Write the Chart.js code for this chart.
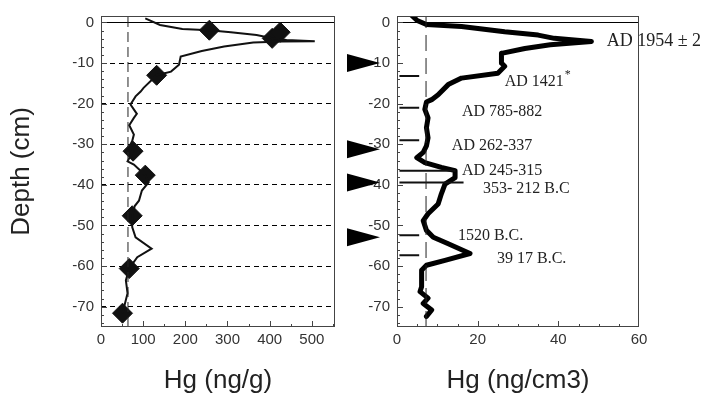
<!DOCTYPE html>
<html>
<head>
<meta charset="utf-8">
<title>Hg depth profiles</title>
<script src="https://cdn.jsdelivr.net/npm/chart.js@4.4.1/dist/chart.umd.min.js"></script>
<style>
  body { margin: 0; background: #fff; }
  #wrap { position: relative; width: 720px; height: 396px; }
  canvas { position: absolute; top: 0; }
</style>
</head>
<body>
<div id="wrap">
  <canvas id="concChart" width="346" height="396" style="left:0"></canvas>
  <canvas id="densChart" width="374" height="396" style="left:346px"></canvas>
</div>
<script>
// ticks shared by both panels
const depthTicks = [0, -10, -20, -30, -40, -50, -60, -70];
const concTicks = [0, 100, 200, 300, 400, 500];
const densTicks = [0, 20, 40, 60];

// Hg (ng/g) profile, left panel
const concHg = [105, 140, 193, 257, 308, 369, 406, 440, 507, 430, 361, 292, 239, 189, 185, 166, 132, 101, 94, 82,
  70, 85, 78, 67, 78, 74, 70, 76, 63, 78, 105, 113, 97, 90, 80, 74, 74, 82, 120, 86, 67, 59, 63, 51];
const concDepth = [1.0, -0.6, -1.6, -1.9, -2.4, -3.1, -3.9, -4.3, -4.6, -4.7, -4.9, -5.9, -7.0, -8.4, -10.4, -12.1, -13.0, -16.1, -17.0, -18.2,
  -20.2, -22.5, -23.5, -25.3, -27.6, -29.2, -30.0, -31.7, -34.2, -35.0, -37.6, -39.4, -41.4, -43.9, -45.2, -47.6, -50.4, -52.9, -55.7, -57.8, -60.6, -63.5, -66.7, -71.6];

// dated samples (diamonds)
const sampleHg = [257, 406, 425, 132, 76, 105, 74, 67, 51];
const sampleDepth = [-1.9, -3.9, -2.4, -13.0, -31.7, -37.6, -47.6, -60.6, -71.6];
const concBackground = 64;

// Hg (ng/cm3) profile, right panel
const densHg = [3.6, 5.0, 7.3, 16, 26.7, 35, 39, 48.2, 38, 31.7, 25.9, 25.9, 26.7, 25.0, 16.0, 12.7, 10.2, 8.6, 7.3, 6.9,
  7.7, 7.3, 7.7, 7.3, 6.5, 4.9, 6.9, 11.0, 14.4, 14.4, 11.9, 11.0, 10.2, 7.7, 6.5, 7.3, 9.0, 12.7, 18.1, 11.9,
  7.3, 6.1, 6.1, 5.7, 7.7, 6.5, 8.6, 7.3];
const densDepth = [1.8, 0.5, -0.5, -1.0, -2.3, -3.1, -3.9, -4.7, -5.5, -6.4, -7.6, -10.0, -10.8, -12.5, -13.7, -15.3, -17.8, -19.0, -19.6, -21.4,
  -23.5, -25.9, -28.4, -30.4, -32.0, -33.3, -34.5, -35.7, -36.5, -38.2, -39.8, -42.2, -44.7, -47.1, -48.8, -51.2, -52.9, -54.5, -56.9, -58.6,
  -59.8, -61.0, -65.1, -66.3, -67.9, -69.2, -70.8, -72.4];
const densBackground = 7.2;

// dated horizons
const dateLabels = ["AD 1954 \u00b1 2", "AD 1421*", "AD 785-882", "AD 262-337", "AD 245-315", "353- 212 B.C", "1520 B.C.", "39 17 B.C."];
const dateLabelHg = [52.0, 26.7, 16.1, 13.6, 16.1, 21.3, 15.1, 24.8];
const dateLabelDepth = [-4.7, -14.5, -21.9, -30.4, -36.5, -41.0, -52.5, -58.1];
const dateMarkDepth = [-13.2, -21, -29, -36.5, -39.4, -52.4, -57.3];
const dateMarkStart = 0.6;
const dateMarkEnd = [5.5, 5.5, 5.5, 14.5, 16.5, 5.5, 5.5];

// arrows between the panels
const arrowDepth = [-10, -31.2, -39.4, -52.9];

const DEPTH_MIN = -75, DEPTH_MAX = 1.6;
const sans = "'Liberation Sans', Arial, sans-serif";
const serif = "'Liberation Serif', 'Times New Roman', serif";

const toPoints = (xs, ys) => xs.map((v, i) => ({ x: v, y: ys[i] }));
const fixedTicks = list => scale => { scale.ticks = list.map(v => ({ value: v })); };

// frame round the plot plus the small inside ticks
const framePlugin = {
  id: "frame",
  afterDraw(chart, args, opts) {
    const { ctx, chartArea: a, scales } = chart;
    ctx.save();
    ctx.strokeStyle = "#444";
    ctx.lineWidth = 1;
    ctx.strokeRect(a.left + 0.5, a.top + 0.5, a.width - 1, a.height - 1);
    ctx.beginPath();
    for (let d = -74; d <= 0; d += 2) {
      const y = Math.round(scales.y.getPixelForValue(d)) + 0.5;
      const len = d % 10 === 0 ? 6 : 3;
      ctx.moveTo(a.left, y);
      ctx.lineTo(a.left + len, y);
    }
    for (let v = opts.xStep; v < scales.x.max; v += opts.xStep) {
      const x = Math.round(scales.x.getPixelForValue(v)) + 0.5;
      const len = v % opts.xMajor === 0 ? 6 : 3;
      ctx.moveTo(x, a.bottom);
      ctx.lineTo(x, a.bottom - len);
    }
    ctx.stroke();
    ctx.restore();
  }
};

// date labels and the arrows on the right panel
const datesPlugin = {
  id: "dates",
  afterDatasetsDraw(chart) {
    const { ctx, chartArea: a, scales: { x, y } } = chart;
    ctx.save();
    ctx.fillStyle = "#222";
    ctx.textBaseline = "middle";
    dateLabels.forEach((t, i) => {
      const px = x.getPixelForValue(dateLabelHg[i]);
      const py = y.getPixelForValue(dateLabelDepth[i]);
      ctx.font = (i === 0 ? 18 : 16) + "px " + serif;
      const star = t.endsWith("*");
      const s = star ? t.slice(0, -1) : t;
      ctx.fillText(s, px, py);
      if (star) {
        const w = ctx.measureText(s).width;
        ctx.font = "12px " + serif;
        ctx.fillText("*", px + w + 1, py - 7);
      }
    });
    ctx.fillStyle = "#000";
    arrowDepth.forEach(d => {
      const py = y.getPixelForValue(d);
      ctx.beginPath();
      ctx.moveTo(a.left - 50, py - 9);
      ctx.lineTo(a.left - 50, py + 9);
      ctx.lineTo(a.left - 17, py);
      ctx.closePath();
      ctx.fill();
    });
    ctx.restore();
  }
};

function depthScale(width, withTitle, dashedGrid) {
  return {
    type: "linear",
    min: DEPTH_MIN,
    max: DEPTH_MAX,
    afterBuildTicks: fixedTicks(depthTicks),
    afterFit: s => { s.width = width; },
    grid: {
      drawTicks: false,
      lineWidth: 1,
      color: c => (c.tick && (c.tick.value === 0 || dashedGrid)) ? "#000" : "rgba(0,0,0,0)"
    },
    border: {
      display: false,
      dash: c => (c.tick && c.tick.value === 0) ? [] : [5, 4]
    },
    ticks: {
      padding: 7,
      color: "#333",
      font: { family: sans, size: 15 },
      callback: v => String(v)
    },
    title: {
      display: withTitle,
      text: "Depth (cm)",
      color: "#222",
      font: { family: sans, size: 26 },
      padding: { top: 6, bottom: 0 }
    }
  };
}

function hgScale(max, ticks, label) {
  return {
    type: "linear",
    min: 0,
    max: max,
    afterBuildTicks: fixedTicks(ticks),
    afterFit: s => { s.height = 69; },
    grid: { display: false, drawTicks: false },
    border: { display: false },
    ticks: {
      padding: 4,
      color: "#333",
      font: { family: sans, size: 15 },
      callback: v => String(v)
    },
    title: {
      display: true,
      text: label,
      color: "#222",
      font: { family: sans, size: 26 },
      padding: { top: 0, bottom: 0 }
    }
  };
}

const common = {
  responsive: false,
  animation: false,
  plugins: { legend: { display: false }, tooltip: { enabled: false } }
};

new Chart(document.getElementById("concChart"), {
  type: "scatter",
  data: {
    datasets: [
      {
        data: [{ x: concBackground, y: DEPTH_MIN }, { x: concBackground, y: DEPTH_MAX }],
        showLine: true, borderColor: "#222", borderWidth: 1, borderDash: [10, 5], pointRadius: 0
      },
      {
        data: toPoints(concHg, concDepth),
        showLine: true, borderColor: "#111", borderWidth: 2, pointRadius: 0, tension: 0
      },
      {
        data: toPoints(sampleHg, sampleDepth),
        showLine: false, pointStyle: "rectRot", pointRadius: 10,
        backgroundColor: "#111", borderColor: "#111", borderWidth: 1
      }
    ]
  },
  options: {
    ...common,
    layout: { padding: { top: 14, right: 3, bottom: 0, left: 0 } },
    scales: {
      x: hgScale(555, concTicks, "Hg (ng/g)"),
      y: depthScale(101, true, true)
    },
    plugins: { ...common.plugins, frame: { xStep: 50, xMajor: 100 } }
  },
  plugins: [framePlugin]
});

const markPoints = [];
dateMarkDepth.forEach((d, i) => {
  markPoints.push({ x: dateMarkStart, y: d }, { x: dateMarkEnd[i], y: d }, { x: null, y: null });
});

new Chart(document.getElementById("densChart"), {
  type: "scatter",
  data: {
    datasets: [
      {
        data: [{ x: densBackground, y: DEPTH_MIN }, { x: densBackground, y: DEPTH_MAX }],
        showLine: true, borderColor: "#222", borderWidth: 1, borderDash: [16, 7], pointRadius: 0
      },
      {
        data: markPoints,
        showLine: true, spanGaps: false, borderColor: "#111", borderWidth: 2, pointRadius: 0
      },
      {
        data: toPoints(densHg, densDepth),
        showLine: true, borderColor: "#000", borderWidth: 5, pointRadius: 0, tension: 0,
        borderJoinStyle: "round", borderCapStyle: "round"
      }
    ]
  },
  options: {
    ...common,
    layout: { padding: { top: 14, right: 81, bottom: 0, left: 0 } },
    scales: {
      x: hgScale(60, densTicks, "Hg (ng/cm3)"),
      y: depthScale(51, false, false)
    },
    plugins: { ...common.plugins, frame: { xStep: 5, xMajor: 20 } }
  },
  plugins: [framePlugin, datesPlugin]
});
</script>
</body>
</html>
